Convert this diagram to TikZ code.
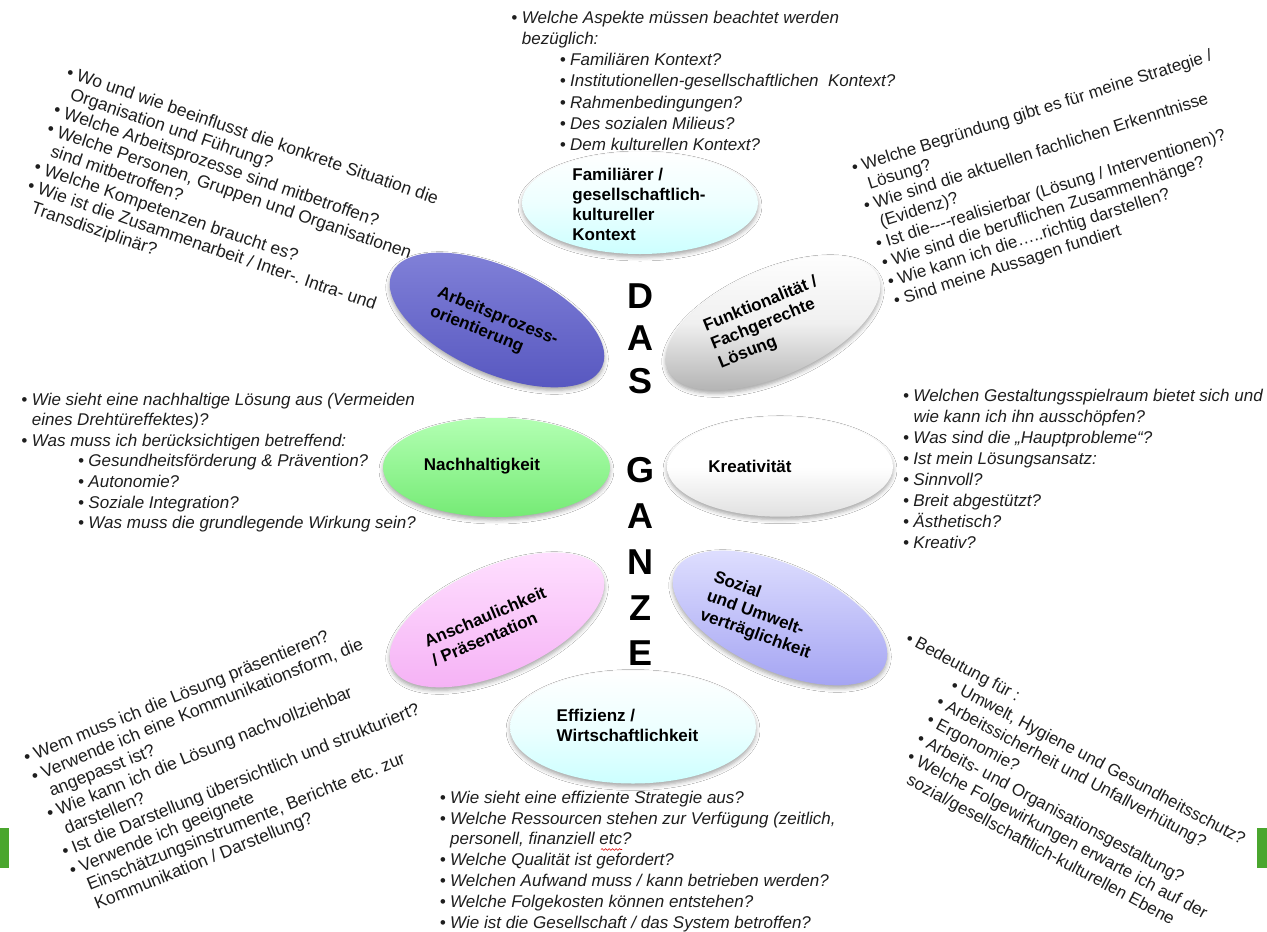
\documentclass[tikz,border=0pt]{standalone}
\usepackage{fontspec}
\setmainfont{Liberation Sans}
\usetikzlibrary{shapes.geometric,shadows.blur,decorations.pathmorphing}

\definecolor{ink}{HTML}{1E1E1E}
\definecolor{barGreen}{HTML}{4AA62E}

\frenchspacing
% bullet hanging to the left of a line
\newcommand\bl{\llap{•\hspace{4.5pt}}}
% bulleted line / plain continuation line, optional left indent
\newcommand\bline[2][0pt]{\hbox{\kern#1\relax\bl #2}}
\newcommand\tline[2][0pt]{\hbox{\kern#1\relax #2}}
% stack of lines with a fixed baseline distance, baseline = first line
\newcommand\textblock[2]{\vtop{\baselineskip=#1\lineskiplimit=-100pt\lineskip=0pt #2}}

\tikzset{
  rtx/.style={inner sep=0pt, anchor=base west, text=ink,
              font=\fontsize{17}{21}\selectfont},
  rtxl/.style={rtx, font=\fontsize{17.5}{21}\selectfont},
  itx/.style={rtx, font=\fontsize{17}{21}\selectfont\itshape},
  oval/.style={ellipse, draw=none, inner sep=0pt,
               blur shadow={shadow xshift=0pt, shadow yshift=-3pt,
                            shadow blur radius=4pt, shadow opacity=35}},
  lab/.style={inner sep=0pt, align=left, text=black,
              font=\fontsize{17}{20}\selectfont\bfseries},
  big/.style={inner sep=0pt, text=black, font=\fontsize{36}{36}\selectfont\bfseries},
  cyanE/.style={top color=white, bottom color=cyan!20!white, middle color=cyan!7!white},
  blueE/.style={top color=blue!40!white!85!black, bottom color=blue!55!white!75!black},
  grayE/.style={top color=white, bottom color=black!32, middle color=black!6},
  greenE/.style={top color=green!30!white, bottom color=green!50!white!92!black},
  whiteE/.style={top color=white, bottom color=black!12, middle color=white},
  pinkE/.style={top color=magenta!12!white, bottom color=magenta!28!white!96!black},
  lavE/.style={top color=blue!12!white, bottom color=blue!33!white!95!black},
}

\begin{document}
\begin{tikzpicture}[x=1pt, y=-1pt]
\useasboundingbox (0,0) rectangle (1267,932);
\clip (0,0) rectangle (1267,932);
\fill[white] (0,0) rectangle (1267,932);

% green edge marks
\fill[barGreen] (0,828) rectangle (9.3,868);
\fill[barGreen] (1257,828) rectangle (1267,868);

% ---------------- ovals ----------------
\node[oval, cyanE, minimum width=236pt, minimum height=102pt] (efam) at (640,203) {};
\node[oval, blueE, minimum width=230pt, minimum height=106pt, rotate=-24] (earb) at (497,320) {};
\node[oval, grayE, minimum width=230pt, minimum height=106pt, rotate=24] (efun) at (773,323) {};
\node[oval, greenE, minimum width=227pt, minimum height=99pt] (enach) at (496.5,467.5) {};
\node[oval, whiteE, minimum width=226pt, minimum height=100pt] (ekrea) at (780,466.7) {};
\node[oval, pinkE, minimum width=230pt, minimum height=106pt, rotate=24] (eans) at (497,620) {};
\node[oval, lavE, minimum width=230pt, minimum height=106pt, rotate=-24] (esoz) at (780,618) {};
\node[oval, cyanE, minimum width=246pt, minimum height=113pt] (eeff) at (633,727) {};

% oval captions
\node[lab] (lfam) at (639,204) {Familiärer /\\gesellschaftlich-\\kultureller\\Kontext};
\node[lab, rotate=-22] (larb) at (494,326) {Arbeitsprozess-\\orientierung};
\node[lab, rotate=22] (lfun) at (768,323) {Funktionalität /\\Fachgerechte\\Lösung};
\node[lab] (lnach) at (482,466) {Nachhaltigkeit};
\node[lab] (lkrea) at (750,466) {Kreativität};
\node[lab, rotate=23] (lans) at (489,626) {Anschaulichkeit\\/ Präsentation};
\node[lab, rotate=-20] (lsoz) at (762,616) {Sozial\\und Umwelt-\\verträglichkeit};
\node[lab] (leff) at (627.5,725) {Effizienz /\\Wirtschaftlichkeit};

% ---------------- DAS GANZE ----------------
\node[big] (cD)  at (640,296) {D};
\node[big] (cA1) at (640,338) {A};
\node[big] (cS)  at (640,381) {S};
\node[big] (cG)  at (640,470) {G};
\node[big] (cA2) at (640,516) {A};
\node[big] (cN)  at (640,562) {N};
\node[big] (cZ)  at (640,608) {Z};
\node[big] (cE)  at (640,653) {E};

% ---------------- question lists ----------------
\node[itx] (qfam) at (521.7,23.3) {\textblock{21.2pt}{%
  \bline{Welche Aspekte müssen beachtet werden}%
  \tline{bezüglich:}%
  \bline[48.3pt]{Familiären Kontext?}%
  \bline[48.3pt]{Institutionellen-gesellschaftlichen\ \ Kontext?}%
  \bline[48.3pt]{Rahmenbedingungen?}%
  \bline[48.3pt]{Des sozialen Milieus?}%
  \bline[48.3pt]{Dem kulturellen Kontext?}}};

\node[rtxl, rotate=-19] (qarb) at (75.5,80.4) {\textblock{20pt}{%
  \bline{Wo und wie beeinflusst die konkrete Situation die}%
  \tline{Organisation und Führung?}%
  \bline{Welche Arbeitsprozesse sind mitbetroffen?}%
  \bline{Welche Personen, Gruppen und Organisationen}%
  \tline{sind mitbetroffen?}%
  \bline{Welche Kompetenzen braucht es?}%
  \bline{Wie ist die Zusammenarbeit / Inter-. Intra- und}%
  \tline{Transdisziplinär?}}};

\node[rtx, rotate=17.5] (qfun) at (863.7,170.6) {\textblock{19.9pt}{%
  \bline{Welche Begründung gibt es für meine Strategie /}%
  \tline{Lösung?}%
  \bline{Wie sind die aktuellen fachlichen Erkenntnisse}%
  \tline{(Evidenz)?}%
  \bline{Ist die-{}-{}-{}-realisierbar (Lösung / Interventionen)?}%
  \bline{Wie sind die beruflichen Zusammenhänge?}%
  \bline{Wie kann ich die…..richtig darstellen?}%
  \bline{Sind meine Aussagen fundiert}}};

\node[itx] (qnach) at (31.7,405) {\textblock{20.6pt}{%
  \bline{Wie sieht eine nachhaltige Lösung aus (Vermeiden}%
  \tline{eines Drehtüreffektes)?}%
  \bline{Was muss ich berücksichtigen betreffend:}%
  \bline[56.6pt]{Gesundheitsförderung \& Prävention?}%
  \bline[56.6pt]{Autonomie?}%
  \bline[56.6pt]{Soziale Integration?}%
  \bline[56.6pt]{Was muss die grundlegende Wirkung sein?}}};

\node[itx] (qkrea) at (913.3,401.5) {\textblock{21pt}{%
  \bline{Welchen Gestaltungsspielraum bietet sich und}%
  \tline{wie kann ich ihn ausschöpfen?}%
  \bline{Was sind die „Hauptprobleme“?}%
  \bline{Ist mein Lösungsansatz:}%
  \bline{Sinnvoll?}%
  \bline{Breit abgestützt?}%
  \bline{Ästhetisch?}%
  \bline{Kreativ?}}};

\node[rtxl, rotate=22] (qans) at (36.4,759.3) {\textblock{20.3pt}{%
  \bline{Wem muss ich die Lösung präsentieren?}%
  \bline{Verwende ich eine Kommunikationsform, die}%
  \tline{angepasst ist?}%
  \bline{Wie kann ich die Lösung nachvollziehbar}%
  \tline{darstellen?}%
  \bline{Ist die Darstellung übersichtlich und strukturiert?}%
  \bline{Verwende ich geeignete}%
  \tline{Einschätzungsinstrumente, Berichte etc. zur}%
  \tline{Kommunikation / Darstellung?}}};

\node[rtx, rotate=-28] (qsoz) at (913.6,646.9) {\textblock{20.8pt}{%
  \bline{Bedeutung für :}%
  \bline[62pt]{Umwelt, Hygiene und Gesundheitsschutz?}%
  \bline[57pt]{Arbeitssicherheit und Unfallverhütung?}%
  \bline[57pt]{Ergonomie?}%
  \bline[57pt]{Arbeits- und Organisationsgestaltung?}%
  \bline[57pt]{Welche Folgewirkungen erwarte ich auf der}%
  \tline[57pt]{sozial/gesellschaftlich-kulturellen Ebene}}};

\node[itx] (qeff) at (450,803.3) {\textblock{20.8pt}{%
  \bline{Wie sieht eine effiziente Strategie aus?}%
  \bline{Welche Ressourcen stehen zur Verfügung (zeitlich,}%
  \tline{personell, finanziell etc?}%
  \bline{Welche Qualität ist gefordert?}%
  \bline{Welchen Aufwand muss / kann betrieben werden?}%
  \bline{Welche Folgekosten können entstehen?}%
  \bline{Wie ist die Gesellschaft / das System betroffen?}}};

% spell-check squiggle under "etc"
\coordinate (sqA) at (601,849.5);
\coordinate (sqB) at (622,849.5);
\draw[red!85!black, line width=0.6pt, decorate,
      decoration={snake, amplitude=0.9pt, segment length=3.5pt}] (sqA) -- (sqB);
\end{tikzpicture}
\end{document}
